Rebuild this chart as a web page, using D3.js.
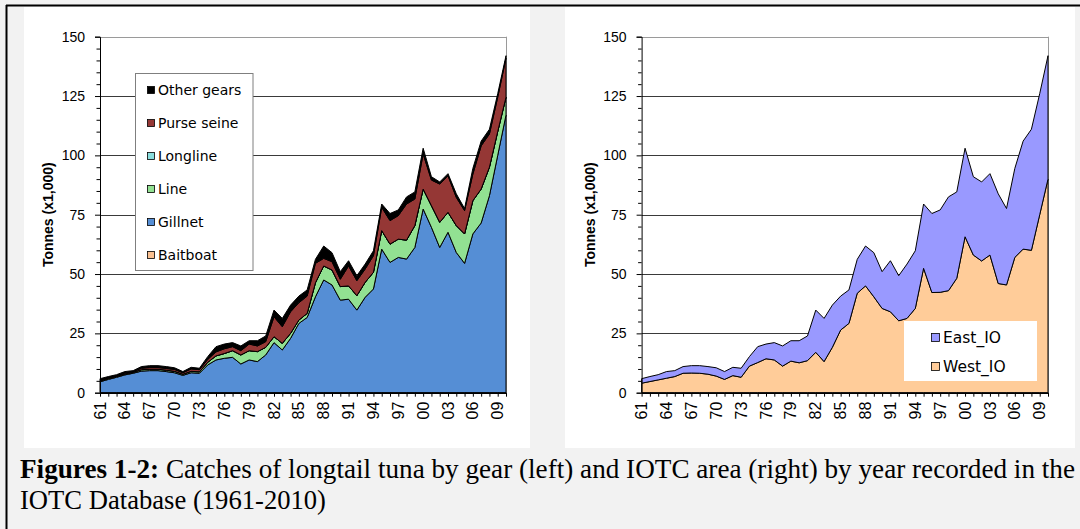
<!DOCTYPE html>
<html>
<head>
<meta charset="utf-8">
<title>Longtail tuna catches</title>
<script src="https://cdn.jsdelivr.net/npm/d3@7/dist/d3.min.js"></script>
<style>
  body { margin: 0; background: #f2f2f2; }
  svg { display: block; }
  .sans { font-family: "Liberation Sans", Arial, sans-serif; }
  .verd { font-family: "DejaVu Sans", Verdana, sans-serif; }
  .serif { font-family: "Liberation Serif", "Times New Roman", serif; }
</style>
</head>
<body>
<div id="fig"></div>

<script type="text/javascript">
	// years 1961-2010
	var years = [1961,1962,1963,1964,1965,1966,1967,1968,1969,1970,
		1971,1972,1973,1974,1975,1976,1977,1978,1979,1980,
		1981,1982,1983,1984,1985,1986,1987,1988,1989,1990,
		1991,1992,1993,1994,1995,1996,1997,1998,1999,2000,
		2001,2002,2003,2004,2005,2006,2007,2008,2009,2010];
	var xLabels = ["61","64","67","70","73","76","79","82","85","88","91","94","97","00","03","06","09"];
	var yTicks = [0,25,50,75,100,125,150];

	// catches by gear (t x 1000)
	var baitboat = [0,0,0,0,0,0,0,0,0,0, 0,0,0,0,0,0,0,0,0,0, 0,0,0,0,0,0,0,0,0,0, 0,0,0,0,0,0,0,0,0,0, 0,0,0,0,0,0,0,0,0,0];
	var gillnet = [4.6,5.6,6.5,7.5,8.2,9.1,9.3,9.3,8.9,8.4, 7.3,8.4,8.2,11.7,13.8,14.5,14.9,12.1,13.8,13.1,
		15.9,21.1,18.0,22.9,29.2,31.7,40.4,47.5,45.4,39.0, 39.4,34.8,40.2,43.7,60.5,54.9,57.0,56.3,61.2,77.4,
		69.7,61.2,67.6,59.1,54.5,66.9,71.5,83.0,100.0,117.0];
	var line = [0.4,0.4,0.4,0.4,0.4,0.6,0.6,0.6,0.6,0.6, 0.5,0.6,0.6,1.1,1.7,2.0,2.8,3.8,3.9,4.2,
		3.2,2.5,2.8,2.1,1.4,1.7,5.9,5.9,6.3,5.7, 5.6,6.1,6.3,7.0,7.8,7.7,7.7,8.0,9.2,8.4,
		9.1,10.6,8.4,11.3,12.4,14.0,14.3,12.0,10.0,7.5];
	var longline = [0,0,0,0,0,0,0,0,0,0, 0,0,0,0,0,0,0,0,0,0, 0,0,0,0,0,0,0,0,0,0, 0,0,0,0,0,0,0,0,0,0, 0,0,0,0,0,0,0,0,0,0];
	var purseSeine = [0.4,0.3,0.3,0.4,0.3,0.6,0.7,0.7,0.7,0.8, 0.6,1.0,0.9,1.2,1.7,2.0,1.7,1.8,2.8,2.4,
		2.4,8.4,7.0,9.1,7.3,7.3,8.2,3.2,3.5,3.1, 8.4,6.3,5.6,7.0,9.8,9.9,9.9,15.2,11.2,14.8,
		10.8,16.1,15.4,11.9,9.8,11.2,18.2,14.0,14.5,16.5];
	var otherGears = [0.5,0.5,0.4,0.6,0.4,0.7,0.8,0.8,0.8,0.7, 0.5,0.7,0.6,1.2,2.2,2.0,1.7,2.0,1.4,2.2,
		2.4,2.8,3.5,2.8,2.8,2.6,1.7,5.2,3.8,3.2, 2.2,2.1,2.1,2.1,1.4,3.0,2.4,3.0,3.0,2.4,
		1.4,0.9,0.9,1.5,0.9,2.4,2.0,2.0,1.5,1.0];

	// catches by IOTC area (t x 1000)
	var westIO = [4.0,4.7,5.4,6.1,6.8,8.2,8.3,8.2,7.8,7.0, 5.6,7.2,6.5,11.2,12.7,14.3,13.8,11.2,13.3,12.6,
		13.5,17.0,13.1,19.1,26.4,29.2,41.9,45.0,40.4,35.5, 34.1,30.3,31.3,35.5,52.4,42.2,42.3,43.0,48.2,65.7,
		58.0,55.5,58.0,46.0,45.4,57.0,60.5,60.0,75.0,90.0];
	var eastIO = [1.9,2.1,2.2,2.8,2.5,2.8,3.1,3.2,3.2,3.5, 3.3,3.5,3.8,4.0,6.7,6.2,7.3,8.5,8.6,9.3,
		10.4,17.8,18.2,17.8,14.3,14.1,14.3,16.8,18.6,15.5, 21.5,19.0,22.9,24.3,27.1,33.3,34.7,39.5,36.4,37.3,
		33.0,33.3,34.3,37.8,32.2,37.5,45.5,51.0,51.0,52.0];

	var gearNames = ["Baitboat","Gillnet","Line","Longline","Purse seine","Other gears"];
	var gearColors = ["#FAC090","#558ED5","#92E192","#8ADEDE","#953735","#000000"];
	var areaNames = ["West_IO","East_IO"];
	var areaColors = ["#FFCC99","#9999FF"];

	var W = 1080, H = 529;
	var svg = d3.select("#fig").append("svg").attr("width", W).attr("height", H);

	// frame and white panels
	svg.append("rect").attr("x", 0).attr("y", 0).attr("width", W).attr("height", H).attr("fill", "#f2f2f2");
	svg.append("rect").attr("x", 24).attr("y", 7).attr("width", 506).attr("height", 441).attr("fill", "#fff");
	svg.append("rect").attr("x", 565).attr("y", 7).attr("width", 510).attr("height", 441).attr("fill", "#fff");
	svg.append("line").attr("x1", 6).attr("x2", W).attr("y1", 5.5).attr("y2", 5.5).attr("stroke", "#000").attr("stroke-width", 2);
	svg.append("line").attr("x1", 6.5).attr("x2", 6.5).attr("y1", 5).attr("y2", H).attr("stroke", "#000").attr("stroke-width", 2);

	function drawPanel(left, right, keys, series, colors) {
		var x = d3.scaleLinear().domain([1961, 2010]).range([left, right]);
		var y = d3.scaleLinear().domain([0, 150]).range([392.7, 36.7]);
		var g = svg.append("g");

		// gridlines
		g.selectAll("line.grid").data(yTicks.slice(1)).enter().append("line")
			.attr("x1", left).attr("x2", right)
			.attr("y1", function(d) { return Math.round(y(d)) + 0.5; })
			.attr("y2", function(d) { return Math.round(y(d)) + 0.5; })
			.attr("stroke", function(d) { return d == 150 ? "#9a9a9a" : "#3a3a3a"; })
			.attr("stroke-width", 1);
		g.append("line").attr("x1", right + 0.5).attr("x2", right + 0.5)
			.attr("y1", y(150)).attr("y2", y(0)).attr("stroke", "#9a9a9a");

		// stacked areas
		var rows = years.map(function(yr, i) {
			var r = { year: yr };
			keys.forEach(function(k, j) { r[k] = series[j][i]; });
			return r;
		});
		var stacked = d3.stack().keys(keys)(rows);
		var area = d3.area()
			.x(function(d) { return x(d.data.year); })
			.y0(function(d) { return y(d[0]); })
			.y1(function(d) { return y(d[1]); });
		g.selectAll("path.layer").data(stacked).enter().append("path")
			.attr("d", area)
			.attr("fill", function(d, i) { return colors[i]; })
			.attr("stroke", "#000")
			.attr("stroke-width", 1)
			.attr("stroke-linejoin", "round");

		// y axis: major + minor ticks
		var yAxis = g.append("g").attr("transform", "translate(" + left + ",0)")
			.call(d3.axisLeft(y).tickValues(yTicks).tickSize(5).tickPadding(10));
		g.append("g").attr("transform", "translate(" + left + ",0)")
			.call(d3.axisLeft(y).tickValues(d3.range(5, 150, 5).filter(function(v) { return v % 25; }))
				.tickSize(3.5).tickFormat(""))
			.select(".domain").remove();
		yAxis.attr("font-family", null).attr("font-size", null);
		yAxis.selectAll("text").attr("class", "sans")
			.attr("font-size", 14).attr("fill", "#000");
		yAxis.selectAll("line, path").attr("stroke", "#000");

		// x axis ticks each year, labels every third year
		var xAxis = g.append("g").attr("transform", "translate(0," + y(0) + ")")
			.call(d3.axisBottom(x).tickValues(years).tickSize(4).tickFormat("").tickSizeOuter(0));
		xAxis.selectAll("line, path").attr("stroke", "#000");
		xAxis.select(".domain").attr("stroke-width", 1.5);
		g.selectAll("text.xl").data(xLabels).enter().append("text")
			.attr("class", "sans")
			.attr("transform", function(d, i) { return "translate(" + x(1961 + 3 * i) + "," + (y(0) + 9) + ") rotate(-90)"; })
			.attr("text-anchor", "end")
			.attr("dy", "0.35em")
			.attr("font-size", 16)
			.text(function(d) { return d; });

		// axis title
		g.append("text")
			.attr("class", "sans")
			.attr("transform", "translate(" + (left - 52) + "," + ((y(0) + y(150)) / 2) + ") rotate(-90)")
			.attr("text-anchor", "middle")
			.attr("dy", "0.35em")
			.attr("font-weight", "bold")
			.attr("font-size", 14)
			.text("Tonnes (x1,000)");
		return g;
	}

	// left: by gear
	drawPanel(100, 506, gearNames, [baitboat, gillnet, line, longline, purseSeine, otherGears], gearColors);

	var leg1 = svg.append("g");
	leg1.append("rect").attr("x", 135.5).attr("y", 73.5).attr("width", 117.5).attr("height", 197)
		.attr("fill", "#fff").attr("stroke", "#7f7f7f");
	var legItems = gearNames.slice().reverse();
	var legColors = gearColors.slice().reverse();
	legItems.forEach(function(name, i) {
		var cy = 90 + i * 33;
		leg1.append("rect").attr("x", 147.5).attr("y", cy - 3.5).attr("width", 7).attr("height", 7)
			.attr("fill", legColors[i]).attr("stroke", "#000").attr("stroke-width", 0.8);
		leg1.append("text").attr("class", "verd").attr("x", 158).attr("y", cy).attr("dy", "0.36em")
			.attr("font-size", 14)
			.text(name);
	});

	// right: by area
	drawPanel(641.6, 1048, areaNames, [westIO, eastIO], areaColors);

	var leg2 = svg.append("g");
	leg2.append("rect").attr("x", 904).attr("y", 321).attr("width", 133).attr("height", 60).attr("fill", "#fff");
	[["East_IO", areaColors[1]], ["West_IO", areaColors[0]]].forEach(function(d, i) {
		var cy = 337.5 + i * 29;
		leg2.append("rect").attr("x", 931.5).attr("y", cy - 4).attr("width", 8).attr("height", 8)
			.attr("fill", d[1]).attr("stroke", "#000").attr("stroke-width", 0.8);
		leg2.append("text").attr("class", "verd").attr("x", 943).attr("y", cy).attr("dy", "0.36em")
			.attr("font-size", 15.5)
			.text(d[0]);
	});

	// caption (condensed to the reference width)
	var cap1 = svg.append("text").attr("class", "serif").attr("x", 20).attr("y", 478)
		.attr("font-size", 27)
		.attr("textLength", 1055).attr("lengthAdjust", "spacingAndGlyphs");
	cap1.append("tspan").attr("font-weight", "bold").text("Figures 1-2:");
	cap1.append("tspan").text(" Catches of longtail tuna by gear (left) and IOTC area (right) by year recorded in the");
	svg.append("text").attr("class", "serif").attr("x", 20).attr("y", 509)
		.attr("font-size", 27)
		.attr("textLength", 306).attr("lengthAdjust", "spacingAndGlyphs")
		.text("IOTC Database (1961-2010)");
</script>
</body>
</html>
